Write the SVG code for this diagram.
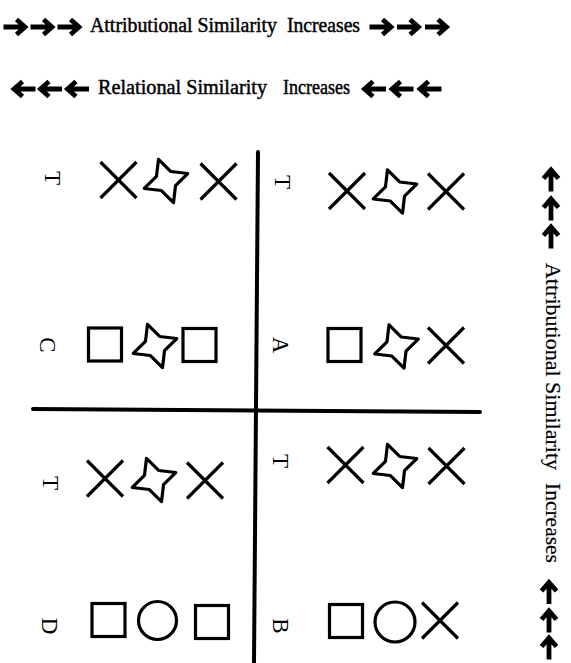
<svg xmlns="http://www.w3.org/2000/svg" xmlns:xlink="http://www.w3.org/1999/xlink" width="571" height="663" viewBox="0 0 571 663">
<style>
  .lbl { font-family: "Liberation Serif", "Times New Roman", serif; font-size: 20px; fill: #000; stroke: #000; stroke-width: 0.45; }
  .vlbl { font-family: "Liberation Serif", "Times New Roman", serif; font-size: 21px; fill: #000; stroke: #000; stroke-width: 0.2; }
  .let { font-family: "Liberation Serif", "Times New Roman", serif; font-size: 23px; fill: #000; text-anchor: middle; }
  .shape { fill: none; stroke: #000; stroke-width: 3.2; }
  .axis { stroke: #000; stroke-width: 4; fill: none; stroke-linecap: round; }
  .arw { fill: none; stroke: #000; stroke-width: 4.8; stroke-linejoin: miter; }
</style>
<defs>
  <path id="arrow" class="arw" d="M-11,0 H9 M2,-7.5 L10.5,0 L2,7.5"/>
  <path id="xmark" class="shape" d="M-18,-18 L18,18 M18,-18 L-18,18"/>
  <path id="star" class="shape" stroke-linejoin="round" transform="rotate(-19)" d="M0,-23 L7.5,-7.5 L23,0 L7.5,7.5 L0,23 L-7.5,7.5 L-23,0 L-7.5,-7.5 Z"/>
  <rect id="sq" class="shape" x="-16.5" y="-16.5" width="33" height="33"/>
</defs>

<g id="header-attributional">
  <use xlink:href="#arrow" transform="translate(14.5,27)"/>
  <use xlink:href="#arrow" transform="translate(41.5,27)"/>
  <use xlink:href="#arrow" transform="translate(68.5,27)"/>
  <text class="lbl" x="90" y="32" textLength="187" lengthAdjust="spacingAndGlyphs">Attributional Similarity</text>
  <text class="lbl" x="287" y="32" textLength="73" lengthAdjust="spacingAndGlyphs">Increases</text>
  <use xlink:href="#arrow" transform="translate(380.5,27)"/>
  <use xlink:href="#arrow" transform="translate(408,27)"/>
  <use xlink:href="#arrow" transform="translate(436,27)"/>
</g>

<g id="header-relational">
  <use xlink:href="#arrow" transform="translate(24.5,89) rotate(180)"/>
  <use xlink:href="#arrow" transform="translate(51,89) rotate(180)"/>
  <use xlink:href="#arrow" transform="translate(78,89) rotate(180)"/>
  <text class="lbl" x="98" y="94" textLength="169" lengthAdjust="spacingAndGlyphs">Relational Similarity</text>
  <text class="lbl" x="283" y="94" textLength="67" lengthAdjust="spacingAndGlyphs">Increases</text>
  <use xlink:href="#arrow" transform="translate(375,89) rotate(180)"/>
  <use xlink:href="#arrow" transform="translate(402.5,89) rotate(180)"/>
  <use xlink:href="#arrow" transform="translate(430.5,89) rotate(180)"/>
</g>

<g id="side-attributional">
  <use xlink:href="#arrow" transform="translate(551,180.5) rotate(-90)"/>
  <use xlink:href="#arrow" transform="translate(551,209.5) rotate(-90)"/>
  <use xlink:href="#arrow" transform="translate(551,237.5) rotate(-90)"/>
  <g transform="translate(546,263) rotate(90)">
    <text class="vlbl" x="0" y="0" textLength="207" lengthAdjust="spacingAndGlyphs">Attributional Similarity</text>
    <text class="vlbl" x="220" y="0" textLength="80" lengthAdjust="spacingAndGlyphs">Increases</text>
  </g>
  <use xlink:href="#arrow" transform="translate(549,593) rotate(-90)"/>
  <use xlink:href="#arrow" transform="translate(549,621.5) rotate(-90)"/>
  <use xlink:href="#arrow" transform="translate(549,648.5) rotate(-90)"/>
</g>

<g id="connectors">
  <path class="axis" d="M258,152 L254,663"/>
  <path class="axis" d="M33,409 L480,412"/>
</g>

<g id="node-TL-T">
  <text class="let" transform="translate(45,178) rotate(90)">T</text>
  <use xlink:href="#xmark" transform="translate(118.5,180)"/>
  <use xlink:href="#star" transform="translate(166,181)"/>
  <use xlink:href="#xmark" transform="translate(218.5,181.5)"/>
</g>
<g id="node-C">
  <text class="let" transform="translate(40,345) rotate(90)">C</text>
  <use xlink:href="#sq" transform="translate(105,344.5)"/>
  <use xlink:href="#star" transform="translate(155,346)"/>
  <use xlink:href="#sq" transform="translate(199.5,345)"/>
</g>
<g id="node-TR-T">
  <text class="let" transform="translate(275,182) rotate(90)">T</text>
  <use xlink:href="#xmark" transform="translate(347,191)"/>
  <use xlink:href="#star" transform="translate(395,191.5)"/>
  <use xlink:href="#xmark" transform="translate(446,191.5)"/>
</g>
<g id="node-A">
  <text class="let" transform="translate(273,345) rotate(90)">A</text>
  <use xlink:href="#sq" transform="translate(344.5,345)"/>
  <use xlink:href="#star" transform="translate(396.5,346.5)"/>
  <use xlink:href="#xmark" transform="translate(446,345.5)"/>
</g>
<g id="node-BL-T">
  <text class="let" transform="translate(43,483) rotate(90)">T</text>
  <use xlink:href="#xmark" transform="translate(105,478.5)"/>
  <use xlink:href="#star" transform="translate(154,480)"/>
  <use xlink:href="#xmark" transform="translate(205,480.5)"/>
</g>
<g id="node-D">
  <text class="let" transform="translate(42,626) rotate(90)">D</text>
  <use xlink:href="#sq" transform="translate(108.5,620)"/>
  <circle class="shape" cx="157.5" cy="620.5" r="19"/>
  <use xlink:href="#sq" transform="translate(212,622)"/>
</g>
<g id="node-BR-T">
  <text class="let" transform="translate(273,461) rotate(90)">T</text>
  <use xlink:href="#xmark" transform="translate(345.5,465)"/>
  <use xlink:href="#star" transform="translate(395,466)"/>
  <use xlink:href="#xmark" transform="translate(446.5,466)"/>
</g>
<g id="node-B">
  <text class="let" transform="translate(273,626) rotate(90)">B</text>
  <use xlink:href="#sq" transform="translate(346,621)"/>
  <circle class="shape" cx="395" cy="622" r="20"/>
  <use xlink:href="#xmark" transform="translate(440,620.5)"/>
</g>
</svg>
